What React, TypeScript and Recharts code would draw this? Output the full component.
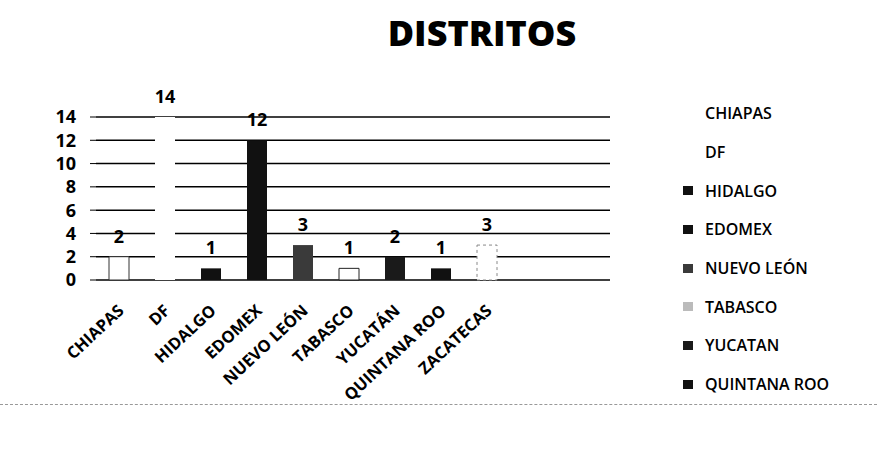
import { Bar, BarChart, CartesianGrid, Cell, LabelList, XAxis, YAxis } from "recharts";

const estados = [
  "CHIAPAS",
  "DF",
  "HIDALGO",
  "EDOMEX",
  "NUEVO LEÓN",
  "TABASCO",
  "YUCATÁN",
  "QUINTANA ROO",
  "ZACATECAS",
];
const distritos = [2, 14, 1, 12, 3, 1, 2, 1, 3];
const yTicks = [0, 2, 4, 6, 8, 10, 12, 14];
const legendNames = [
  "CHIAPAS",
  "DF",
  "HIDALGO",
  "EDOMEX",
  "NUEVO LEÓN",
  "TABASCO",
  "YUCATAN",
  "QUINTANA ROO",
];

const fills = ["#fff", "#fff", "#111", "#111", "#3a3a3a", "#fff", "#1a1a1a", "#111", "#fff"];
const strokes = ["#333", "none", "none", "none", "none", "#222", "none", "none", "#888"];
const legendMarks = ["none", "none", "#111", "#111", "#3a3a3a", "#bbb", "#1a1a1a", "#111"];

const data = estados.map((name, i) => ({ name, value: distritos[i] }));

const font = "'Open Sans', Lato, sans-serif";

const XTick = (props: any) => {
  const { x, y, payload } = props;
  return (
    <g transform={`translate(${x + 6},${y + 24})`}>
      <text
        textAnchor="end"
        transform="rotate(-43)"
        fontSize={16.5}
        fontWeight={700}
        fontFamily={font}
        fill="#000"
      >
        {payload.value}
      </text>
    </g>
  );
};

const DistritosChart = () => {
  return (
    <div style={{ position: "absolute", left: 0, top: 0, width: 877, height: 457, background: "#fff" }}>
      <div
        style={{
          position: "absolute",
          left: 0,
          width: 964,
          top: 8,
          textAlign: "center",
          fontFamily: font,
          fontWeight: 800,
          fontSize: 36,
          color: "#000",
        }}
      >
        DISTRITOS
      </div>
      <BarChart
        width={877}
        height={457}
        data={data}
        margin={{ top: 117, right: 267, left: 0, bottom: 77 }}
      >
        <CartesianGrid vertical={false} stroke="#000" strokeWidth={1.5} />
        <XAxis
          dataKey="name"
          interval={0}
          height={100}
          tick={<XTick />}
          tickLine={false}
          axisLine={false}
          padding={{ left: 0, right: 100 }}
        />
        <YAxis
          width={96}
          domain={[0, 14]}
          ticks={yTicks}
          interval={0}
          tickSize={6}
          tickMargin={14}
          axisLine={false}
          tickLine={{ stroke: "#000" }}
          tick={{ fontSize: 18, fontWeight: 700, fill: "#000", fontFamily: font }}
        />
        <Bar dataKey="value" barSize={20} isAnimationActive={false}>
          {data.map((d, i) => (
            <Cell
              key={d.name}
              fill={fills[i]}
              stroke={strokes[i]}
              strokeDasharray={i === 8 ? "3 3" : undefined}
            />
          ))}
          <LabelList
            dataKey="value"
            position="top"
            offset={14}
            fill="#000"
            fontSize={18}
            fontWeight={700}
            fontFamily={font}
          />
        </Bar>
      </BarChart>
      <div style={{ position: "absolute", left: 683, top: 94, fontFamily: font, fontSize: 16, fontWeight: 600 }}>
        {legendNames.map((n, i) => (
          <div key={n} style={{ display: "flex", alignItems: "center", height: 38.7 }}>
            <span
              style={{
                display: "inline-block",
                width: 10,
                height: 9,
                marginRight: 12,
                background: legendMarks[i] === "none" ? "transparent" : legendMarks[i],
              }}
            />
            <span>{n}</span>
          </div>
        ))}
      </div>
      <div
        style={{
          position: "absolute",
          left: 0,
          top: 404,
          width: 877,
          borderTop: "1px dashed #999",
        }}
      />
    </div>
  );
};

export default function App() {
  return <DistritosChart />;
}
